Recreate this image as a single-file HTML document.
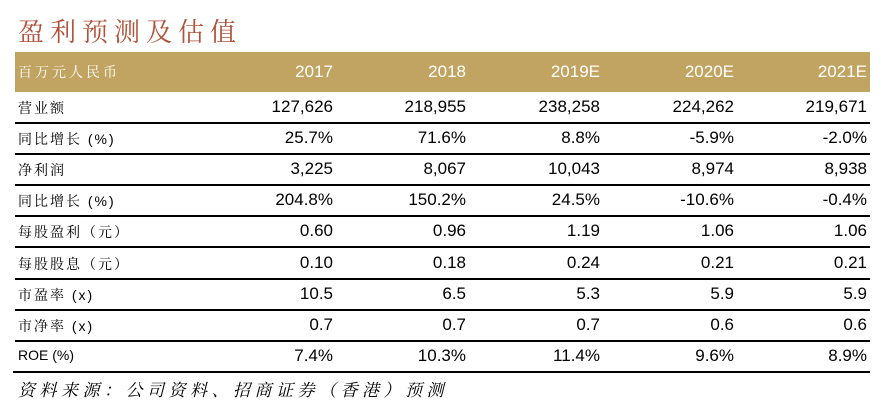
<!DOCTYPE html>
<html><head><meta charset="utf-8"><style>
body{margin:0;width:888px;height:414px;background:#fff;position:relative;overflow:hidden;font-family:"Liberation Sans","Noto Sans CJK SC",sans-serif}
.t{position:absolute;left:18px;top:12px;font:26px "Noto Serif CJK SC",serif;color:#b0533a;letter-spacing:6px}
.hb{position:absolute;left:15px;top:52px;width:855px;height:40px;background:#c2a462}
.r{position:absolute;left:15px;width:855px;height:31px}
.r .l{position:absolute;left:3px;top:6px;font-size:14px;font-family:"Liberation Sans","Noto Serif CJK SC",serif;color:#000;letter-spacing:2px}
.r .v{position:absolute;top:5px;font-size:17px;text-align:right;width:120px;color:#000}
.hb .l{position:absolute;left:3px;top:10px;font-size:14px;color:#fff;font-family:"Noto Serif CJK SC",serif;letter-spacing:3px}
.hb .v{position:absolute;top:10px;font-size:17px;text-align:right;width:120px;color:#fff}
.ln{position:absolute;left:15px;width:855px;height:2px;background:#000}
.fn{position:absolute;left:18px;top:376px;font:italic 17px "Noto Serif CJK SC",serif;color:#000;letter-spacing:4.5px}
</style></head><body>
<div class="t">盈利预测及估值</div>
<div class="hb">
<span class="l">百万元人民币</span>
<span class="v" style="left:198px">2017</span>
<span class="v" style="left:331px">2018</span>
<span class="v" style="left:465px">2019E</span>
<span class="v" style="left:599px">2020E</span>
<span class="v" style="left:732px">2021E</span>
</div>
<div id="rows"></div>
<div class="fn">资料来源：公司资料、招商证券（香港）预测</div>
<script>
const labels=["营业额","同比增长 (%)","净利润","同比增长 (%)","每股盈利（元）","每股股息（元）","市盈率 (x)","市净率 (x)","ROE (%)"];
const v2017=["127,626","25.7%","3,225","204.8%","0.60","0.10","10.5","0.7","7.4%"];
const v2018=["218,955","71.6%","8,067","150.2%","0.96","0.18","6.5","0.7","10.3%"];
const v2019=["238,258","8.8%","10,043","24.5%","1.19","0.24","5.3","0.7","11.4%"];
const v2020=["224,262","-5.9%","8,974","-10.6%","1.06","0.21","5.9","0.6","9.6%"];
const v2021=["219,671","-2.0%","8,938","-0.4%","1.06","0.21","5.9","0.6","8.9%"];
const cols=[v2017,v2018,v2019,v2020,v2021];
const lefts=[198,331,465,599,732];
const root=document.getElementById('rows');
labels.forEach((lab,i)=>{
  const top=92+i*31.1;
  const r=document.createElement('div');r.className='r';r.style.top=top+'px';
  
  
  const l=document.createElement('span');l.className='l';l.textContent=lab;
  if(lab.startsWith('ROE'))l.style.letterSpacing='0';
  
  
  r.appendChild(l);
  cols.forEach((c,j)=>{
    const s=document.createElement('span');s.className='v';s.style.left=lefts[j]+'px';s.textContent=c[i];
    
    
    r.appendChild(s);
  });
  root.appendChild(r);
  const ln=document.createElement('div');ln.className='ln';ln.style.top=(top+30)+'px';
  if(i===labels.length-1){ln.style.left='13px';ln.style.width='857px';}
  
  
  root.appendChild(ln);
});
</script>
</body></html>
